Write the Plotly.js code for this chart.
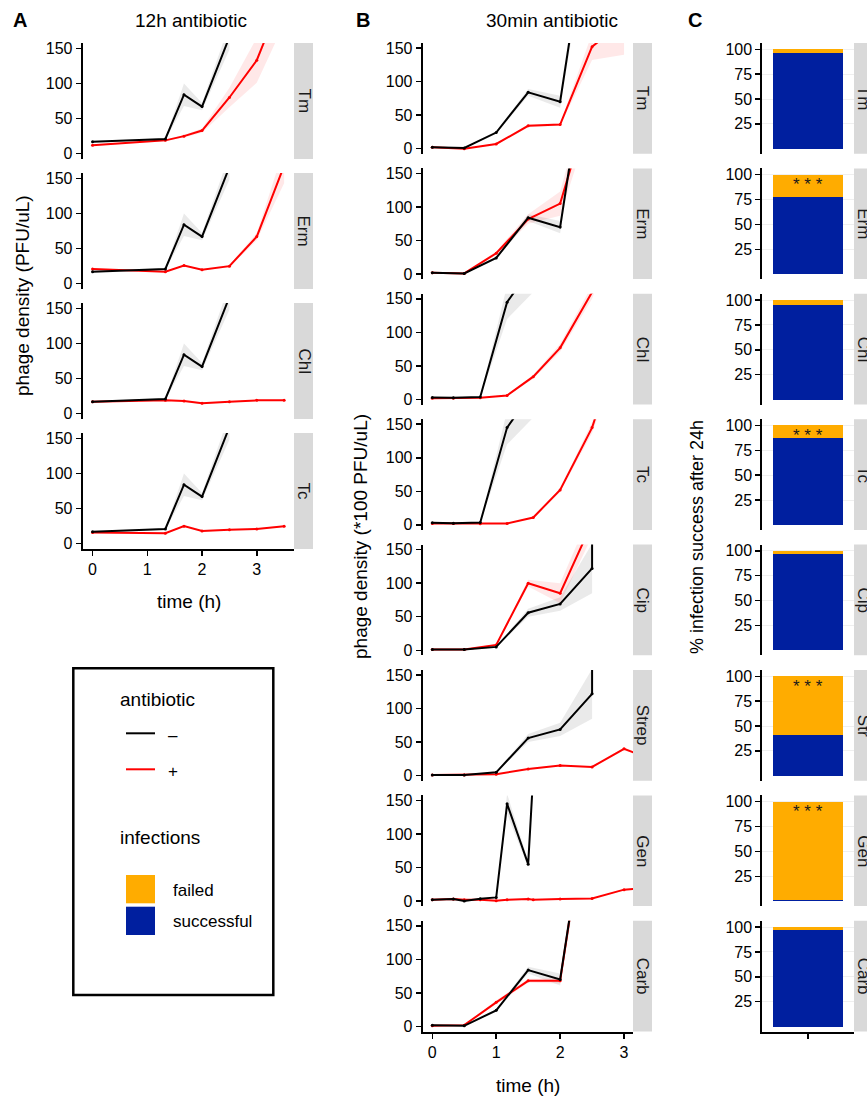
<!DOCTYPE html>
<html><head><meta charset="utf-8">
<script src="https://cdn.plot.ly/plotly-3.0.1.min.js"></script>
<style>html,body{margin:0;padding:0;background:#fff;}#chart{width:867px;height:1096px;}</style>
</head><body><div id="chart"></div>
<script>
// ---------------- DATA ----------------
// Panel A: 12h antibiotic
const A_strips = ['Tm','Erm','Chl','Tc'];
const A_ctrl_time = [0, 1.33, 1.67, 2, 2.5];
const A_ctrl = [17, 21, 84, 67, 166];
const A_ctrl_sd = [1, 1, 16, 5, 18];
const A_time = [0, 1.33, 1.67, 2, 2.5, 3, 3.5];
const A_Tm = [12, 19, 25, 33, 80, 133, 230];
const A_Tm_sd = [1, 1, 2, 3, 14, 32, 45];
const A_Erm = [21, 17, 26, 20, 25, 67, 168];
const A_Erm_sd = [1, 1, 1, 1, 2, 5, 25];
const A_Chl = [17, 19, 18, 15, 17, 19, 19];
const A_Chl_sd = [1, 1, 1, 1, 1, 1, 1];
const A_Tc = [16, 15, 25, 18, 20, 21, 25];
const A_Tc_sd = [1, 1, 1, 1, 1, 1, 1];

// Panel B: 30min antibiotic
const B_strips = ['Tm','Erm','Chl','Tc','Cip','Strep','Gen','Carb'];
const B_ctrl1_time = [0, 0.5, 1, 1.5, 2, 2.5];
const B_ctrl1 = [2, 1, 24, 84, 70, 380];
const B_ctrl1_sd = [0.5, 0.5, 2, 5, 9, 30];
const B_ctrl2_time = [0, 0.33, 0.75, 1.17, 1.58];
const B_ctrl2 = [3, 2.5, 3.5, 145, 200];
const B_ctrl2_sd = [0.5, 0.5, 0.5, 25, 40];
const B_ctrl3_time = [0, 0.5, 1, 1.5, 2, 2.5, 2.5];
const B_ctrl3 = [1, 1, 5, 56, 69, 122, 400];
const B_ctrl3_sd = [0.5, 0.5, 1, 6, 10, 37, 37];
const B_ctrl4_time = [0, 0.33, 0.5, 0.75, 1, 1.17, 1.5, 1.58];
const B_ctrl4 = [2, 3, 0, 3.5, 5.5, 145, 55, 190];
const B_ctrl4_sd = [0.5, 0.5, 0.5, 0.5, 1, 15, 5, 20];

const B_Tm_time = [0, 0.5, 1, 1.5, 2, 2.5, 3];
const B_Tm = [2, 0, 7, 34, 36, 152, 190];
const B_Tm_sd = [0.5, 0.5, 1, 2, 2, 20, 50];
const B_Erm_time = [0, 0.5, 1, 1.5, 2, 2.5];
const B_Erm = [2, 1, 31, 82, 105, 265];
const B_Erm_sd = [0.5, 0.5, 3, 7, 18, 30];
const B_Chl_time = [0, 0.33, 0.75, 1.17, 1.58, 2, 2.5, 3];
const B_Chl = [2, 2, 2.5, 6, 34, 77, 160, 300];
const B_Chl_sd = [0.5, 0.5, 0.5, 1, 3, 6, 10, 20];
const B_Tc_time = [0, 0.33, 0.75, 1.17, 1.58, 2, 2.5, 3];
const B_Tc = [2, 2, 1.5, 2, 11, 52, 145, 290];
const B_Tc_sd = [0.5, 0.5, 0.5, 0.5, 1, 3, 8, 20];
const B_Cip_time = [0, 0.5, 1, 1.5, 2, 2.5];
const B_Cip = [1, 1, 8, 100, 85, 190];
const B_Cip_sd = [0.5, 0.5, 1, 5, 15, 20];
const B_Strep_time = [0, 0.5, 1, 1.5, 2, 2.5, 3, 3.5];
const B_Strep = [1, 1, 2, 10, 15, 13, 40, 22];
const B_Strep_sd = [0.5, 0.5, 0.5, 1, 1, 1, 2, 2];
const B_Gen_time = [0, 0.33, 0.5, 0.75, 1, 1.17, 1.5, 1.58, 2, 2.5, 3, 3.5];
const B_Gen = [2, 3, 2, 2, 0.5, 2, 3, 2, 3, 4, 17, 20];
const B_Gen_sd = [0.5, 0.5, 0.5, 0.5, 0.5, 0.5, 0.5, 0.5, 0.5, 0.5, 1, 1];
const B_Carb_time = [0, 0.5, 1, 1.5, 2, 2.5];
const B_Carb = [1, 2, 36, 68, 68, 380];
const B_Carb_sd = [0.5, 0.5, 3, 3, 4, 30];

// Panel C: % infection success after 24h
const C_strips = ['Tm','Erm','Chl','Tc','Cip','Str','Gen','Carb'];
const C_success = [96, 78, 95, 87, 97, 41, 1, 97];
const C_signif = ['', '***', '', '***', '', '***', '***', ''];

const xTicksA = [0, 1, 2, 3];
const yTicks = [0, 50, 100, 150];
const yTicksC = [25, 50, 75, 100];

// ---------------- LAYOUT HELPERS ----------------
const W = 867, H = 1096;
const px = x => x / W;
const py = y => 1 - y / H;
const FONT = 'Liberation Sans, Arial, Helvetica, sans-serif';
const BLACK = '#000000', RED = '#FF0000';
const ORANGE = '#FFAC00', BLUE = '#001F9F';
const STRIP = '#D9D9D9';
const TICK = 16;

const traces = [];
const layout = {
  width: W, height: H, margin: {l: 0, r: 0, t: 0, b: 0},
  paper_bgcolor: '#fff', plot_bgcolor: 'rgba(0,0,0,0)',
  showlegend: false, barmode: 'stack',
  font: {family: FONT, size: TICK, color: BLACK},
  shapes: [], annotations: []
};

let axN = 0;
function addAxes(xL, xR, top, h, xrange, yrange, opts) {
  axN++;
  const k = axN === 1 ? '' : String(axN);
  const isBottom = opts.bottom;
  layout['xaxis' + k] = {
    domain: [px(xL), px(xR)], anchor: 'y' + k, range: xrange,
    showgrid: false, zeroline: false,
    showline: isBottom, linecolor: BLACK, linewidth: 2,
    ticks: isBottom ? 'outside' : '', ticklen: 5, tickwidth: 1.5, tickcolor: BLACK,
    tickvals: opts.xtickvals, showticklabels: isBottom && opts.xlabels !== false,
    tickfont: {size: TICK, color: BLACK, family: FONT}, fixedrange: true
  };
  layout['yaxis' + k] = {
    domain: [py(top + h), py(top)], anchor: 'x' + k, range: yrange,
    showgrid: !!opts.grid, gridcolor: '#EFEFEF', gridwidth: 1, zeroline: false,
    showline: true, linecolor: BLACK, linewidth: 2,
    ticks: 'outside', ticklen: 5, tickwidth: 1.5, tickcolor: BLACK,
    tickvals: opts.ytickvals, tickfont: {size: TICK, color: BLACK, family: FONT}, fixedrange: true
  };
  return {x: 'x' + k, y: 'y' + k};
}

function addStrip(xR, top, h, label) {
  layout.shapes.push({type: 'rect', xref: 'paper', yref: 'paper',
    x0: px(xR), x1: px(xR + 19), y0: py(top + h), y1: py(top),
    fillcolor: STRIP, line: {width: 0}, layer: 'below'});
  layout.annotations.push({xref: 'paper', yref: 'paper', x: px(xR + 9.5), y: py(top + h / 2),
    text: label, showarrow: false, textangle: 90, xanchor: 'center', yanchor: 'middle',
    font: {size: 17, color: '#1A1A1A', family: FONT}});
}

function ribbon(ax, t, v, sd, color) {
  const lo = v.map((d, i) => d - sd[i]);
  const hi = v.map((d, i) => d + sd[i]);
  traces.push({type: 'scatter', mode: 'lines', xaxis: ax.x, yaxis: ax.y,
    x: t.concat(t.slice().reverse()), y: lo.concat(hi.slice().reverse()),
    fill: 'toself', fillcolor: color, line: {width: 0}, hoverinfo: 'skip'});
}
function line(ax, t, v, color) {
  traces.push({type: 'scatter', mode: 'lines+markers', xaxis: ax.x, yaxis: ax.y,
    x: t, y: v, line: {color: color, width: 2}, marker: {color: color, size: 3}});
}
const GREY_FILL = 'rgba(190,190,190,0.32)';
const RED_FILL = 'rgba(255,0,0,0.09)';

// ---------------- PANEL A ----------------
const A_red = [A_Tm, A_Erm, A_Chl, A_Tc];
const A_red_sd = [A_Tm_sd, A_Erm_sd, A_Chl_sd, A_Tc_sd];
const aL = 82.7, aR = 294, aH = 116;
A_strips.forEach((s, i) => {
  const top = 43 + 130 * i;
  const ax = addAxes(aL, aR, top, aH, [-0.18, 3.68], [-7.5, 157.5],
    {bottom: i === A_strips.length - 1, xtickvals: xTicksA, ytickvals: yTicks});
  ribbon(ax, A_ctrl_time, A_ctrl, A_ctrl_sd, GREY_FILL);
  ribbon(ax, A_time, A_red[i], A_red_sd[i], RED_FILL);
  line(ax, A_time, A_red[i], RED);
  line(ax, A_ctrl_time, A_ctrl, BLACK);
  addStrip(aR, top, aH, s);
});

// ---------------- PANEL B ----------------
const B_ctrlSets = [
  [B_ctrl1_time, B_ctrl1, B_ctrl1_sd], [B_ctrl2_time, B_ctrl2, B_ctrl2_sd],
  [B_ctrl3_time, B_ctrl3, B_ctrl3_sd], [B_ctrl4_time, B_ctrl4, B_ctrl4_sd]];
const B_ctrlIdx = [0, 0, 1, 1, 2, 2, 3, 0];
const B_redSets = [
  [B_Tm_time, B_Tm, B_Tm_sd], [B_Erm_time, B_Erm, B_Erm_sd], [B_Chl_time, B_Chl, B_Chl_sd],
  [B_Tc_time, B_Tc, B_Tc_sd], [B_Cip_time, B_Cip, B_Cip_sd], [B_Strep_time, B_Strep, B_Strep_sd],
  [B_Gen_time, B_Gen, B_Gen_sd], [B_Carb_time, B_Carb, B_Carb_sd]];
const bL = 422.7, bR = 633, bH = 110.7, pitch = 125.4;
B_strips.forEach((s, i) => {
  const top = 43 + pitch * i;
  const ax = addAxes(bL, bR, top, bH, [-0.15, 3.14], [-7.5, 157.5],
    {bottom: i === B_strips.length - 1, xtickvals: xTicksA, ytickvals: yTicks});
  const c = B_ctrlSets[B_ctrlIdx[i]], r = B_redSets[i];
  ribbon(ax, c[0], c[1], c[2], GREY_FILL);
  ribbon(ax, r[0], r[1], r[2], RED_FILL);
  line(ax, r[0], r[1], RED);
  line(ax, c[0], c[1], BLACK);
  addStrip(bR, top, bH, s);
});

// ---------------- PANEL C ----------------
const cL = 762.3, cR = 854;
C_strips.forEach((s, i) => {
  const top = 43 + pitch * i;
  const ax = addAxes(cL, cR, top, bH, [-0.6, 0.6], [-5, 106.3],
    {bottom: i === C_strips.length - 1, xtickvals: [0], xlabels: false, ytickvals: yTicksC, grid: true});
  traces.push({type: 'bar', xaxis: ax.x, yaxis: ax.y, x: [0], y: [C_success[i]],
    width: 0.92, marker: {color: BLUE, line: {width: 0}}, hoverinfo: 'skip'});
  traces.push({type: 'bar', xaxis: ax.x, yaxis: ax.y, x: [0], y: [100 - C_success[i]],
    width: 0.92, marker: {color: ORANGE, line: {width: 0}}, hoverinfo: 'skip'});
  if (C_signif[i]) {
    layout.annotations.push({xref: ax.x, yref: ax.y, x: 0, y: 90,
      text: C_signif[i].split('').join(' '), showarrow: false,
      xanchor: 'center', yanchor: 'middle', font: {size: 17, color: '#1A1A1A', family: FONT}});
  }
  addStrip(cR, top, bH, s);
});

// ---------------- TITLES & LABELS ----------------
function txt(x, y, text, size, extra) {
  layout.annotations.push(Object.assign({xref: 'paper', yref: 'paper', x: px(x), y: py(y),
    text: text, showarrow: false, xanchor: 'center', yanchor: 'middle',
    font: {size: size, color: BLACK, family: FONT}}, extra || {}));
}
txt(20, 20, '<b>A</b>', 20);
txt(363, 20, '<b>B</b>', 20);
txt(695, 20, '<b>C</b>', 20);
txt(191, 20, '12h antibiotic', 19);
txt(552, 20, '30min antibiotic', 19);
txt(22, 296, 'phage density (PFU/uL)', 19, {textangle: -90});
txt(360, 537, 'phage density (*100 PFU/uL)', 19, {textangle: -90});
txt(697, 537, '% infection success after 24h', 18, {textangle: -90});
txt(189, 601, 'time (h)', 19);
txt(528, 1085, 'time (h)', 19);

// ---------------- LEGEND ----------------
layout.shapes.push({type: 'rect', xref: 'paper', yref: 'paper',
  x0: px(73.3), x1: px(273.3), y0: py(995), y1: py(668.3), line: {color: BLACK, width: 2.5}});
layout.shapes.push({type: 'line', xref: 'paper', yref: 'paper',
  x0: px(126), x1: px(155), y0: py(733.3), y1: py(733.3), line: {color: BLACK, width: 2}});
layout.shapes.push({type: 'line', xref: 'paper', yref: 'paper',
  x0: px(126), x1: px(155), y0: py(769.3), y1: py(769.3), line: {color: RED, width: 2}});
layout.shapes.push({type: 'rect', xref: 'paper', yref: 'paper',
  x0: px(126), x1: px(155), y0: py(903.3), y1: py(875), fillcolor: ORANGE, line: {width: 0}});
layout.shapes.push({type: 'rect', xref: 'paper', yref: 'paper',
  x0: px(126), x1: px(155), y0: py(935), y1: py(906.7), fillcolor: BLUE, line: {width: 0}});
txt(118, 699, 'antibiotic', 19, {xanchor: 'left'});
txt(166, 735, '–', 17, {xanchor: 'left'});
txt(166, 771, '+', 17, {xanchor: 'left'});
txt(118, 837, 'infections', 19, {xanchor: 'left'});
txt(171, 890, 'failed', 17, {xanchor: 'left'});
txt(171, 921, 'successful', 17, {xanchor: 'left'});

Plotly.newPlot('chart', traces, layout, {staticPlot: true, displayModeBar: false});
</script>
</body></html>
